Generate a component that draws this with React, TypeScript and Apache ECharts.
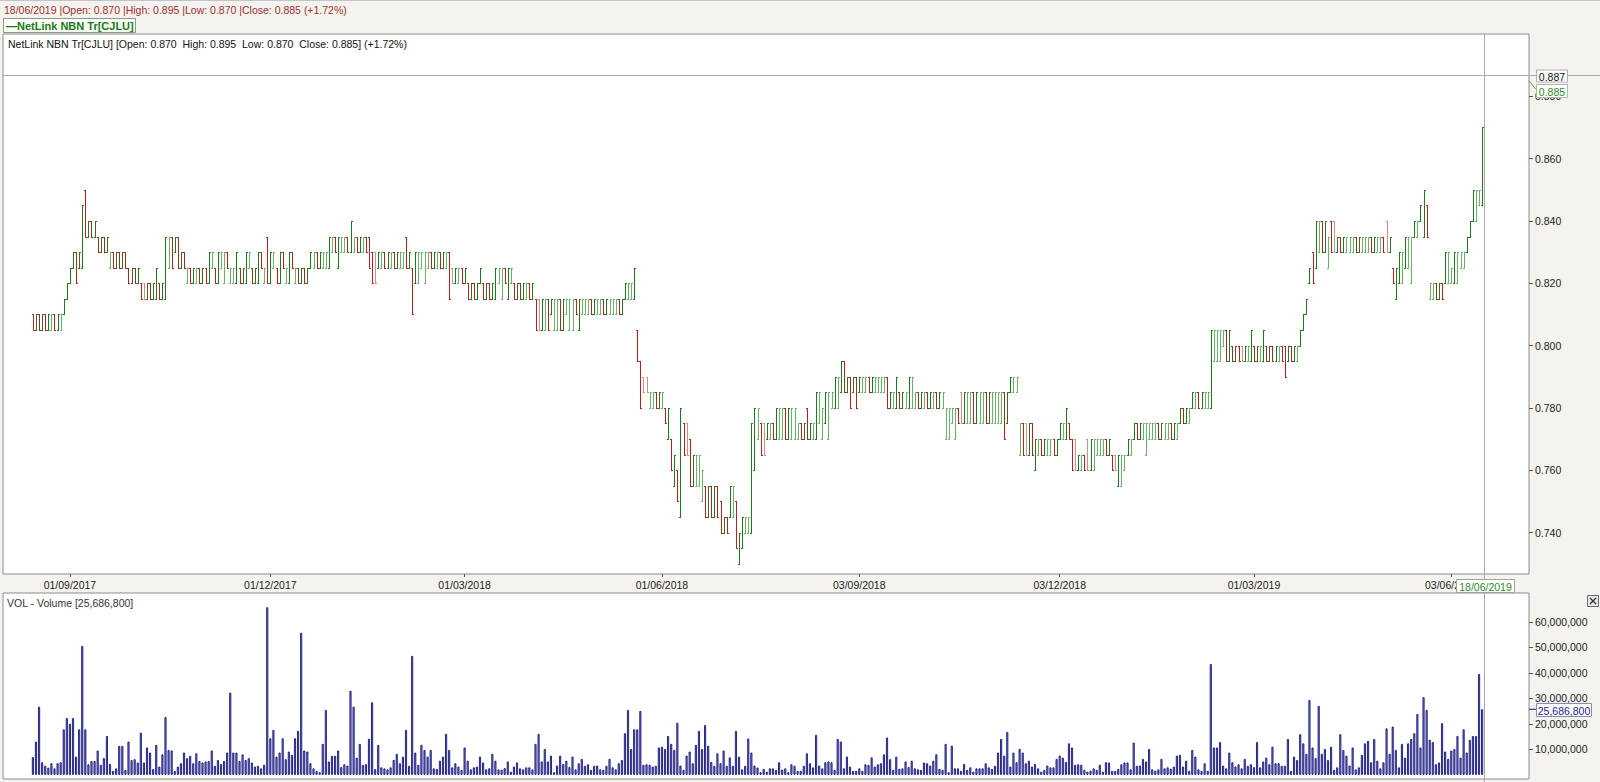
import React, { useEffect, useRef } from "react";
import * as echarts from "echarts";

// ---------- DATA ----------
const securityName = "NetLink NBN Tr[CJLU]";
const lastDate = "18/06/2019";
const lastOpen = 0.87;
const lastHigh = 0.895;
const lastLow = 0.87;
const lastClose = 0.885;
const changePct = 1.72;
const crossPrice = 0.887;
const lastVolume = 25686800;

const xTickIndex = [12, 77, 140, 204, 268, 333, 396, 460];
const xTickLabels = ["01/09/2017", "01/12/2017", "01/03/2018", "01/06/2018", "03/09/2018", "03/12/2018", "01/03/2019", "03/06/2019"];
const priceTicks = [0.74, 0.76, 0.78, 0.8, 0.82, 0.84, 0.86, 0.88];
const volumeTicks = [10000000, 20000000, 30000000, 40000000, 50000000, 60000000];

// daily bars: [open, high, low, close] in thousandths of a dollar
const ohlcThousandths: number[][] = [
  [810,810,805,805],[805,810,805,810],[810,810,805,805],[805,810,805,810],[810,810,805,805],[805,810,805,810],[805,810,805,810],[810,810,805,805],[805,810,805,810],[805,810,805,810],
  [810,815,810,815],[815,820,815,820],[820,825,820,825],[825,830,825,830],[830,830,820,820],[825,830,825,830],[825,845,825,845],[850,850,835,835],[835,840,835,840],[840,840,835,835],
  [835,840,835,840],[835,835,830,830],[830,835,830,835],[835,835,830,830],[830,835,830,835],[825,830,825,830],[830,830,825,825],[825,830,825,830],[830,830,825,825],[825,830,825,830],
  [830,830,825,825],[825,825,820,820],[820,825,820,825],[825,825,820,820],[820,825,820,825],[820,820,815,815],[820,820,815,815],[815,820,815,820],[820,820,815,815],[815,820,815,820],
  [815,825,815,825],[820,820,815,815],[815,820,815,820],[815,835,815,835],[825,835,825,835],[835,835,825,825],[830,835,830,835],[835,835,825,825],[825,830,825,830],[830,830,825,825],
  [820,825,820,825],[825,825,820,820],[820,825,820,825],[820,825,820,825],[825,825,820,820],[820,825,820,825],[825,825,820,820],[820,830,820,830],[825,830,825,830],[825,825,820,820],
  [820,830,820,830],[825,830,825,830],[820,830,820,830],[830,830,825,825],[820,825,820,825],[820,825,820,825],[820,830,820,830],[825,825,820,820],[820,825,820,825],[820,830,820,830],
  [825,830,825,830],[825,825,820,820],[820,825,820,825],[820,830,820,830],[830,830,825,825],[820,825,820,825],[835,835,820,820],[820,830,820,830],[825,830,825,830],[825,825,820,820],
  [820,830,820,830],[830,830,825,825],[820,825,820,825],[820,830,820,830],[830,830,825,825],[820,825,820,825],[825,825,820,820],[820,825,820,825],[825,825,820,820],[820,825,820,825],
  [825,830,825,830],[825,830,825,830],[830,830,825,825],[825,830,825,830],[825,830,825,830],[825,830,825,830],[825,835,825,835],[830,835,830,835],[835,835,830,830],[825,835,825,835],
  [830,835,830,835],[830,835,830,835],[835,835,830,830],[830,840,830,840],[830,835,830,835],[835,835,830,830],[830,835,830,835],[830,835,830,835],[835,835,830,830],[835,835,825,825],
  [830,830,820,820],[830,830,820,820],[825,830,825,830],[825,830,825,830],[830,830,825,825],[825,830,825,830],[825,830,825,830],[830,830,825,825],[825,830,825,830],[825,830,825,830],
  [825,830,825,830],[835,835,825,825],[825,830,825,830],[825,825,810,810],[820,830,820,830],[820,830,820,830],[825,830,825,830],[820,830,820,830],[825,830,825,830],[830,830,825,825],
  [825,830,825,830],[825,830,825,830],[830,830,825,825],[825,830,825,830],[825,830,825,830],[830,830,815,815],[825,825,820,820],[820,825,820,825],[820,825,820,825],[825,825,820,820],
  [820,825,820,825],[820,820,815,815],[815,820,815,820],[820,820,815,815],[815,820,815,820],[820,825,820,825],[820,820,815,815],[815,820,815,820],[820,820,815,815],[815,820,815,820],
  [815,825,815,825],[820,825,820,825],[815,825,815,825],[825,825,820,820],[815,825,815,825],[820,825,820,825],[820,820,815,815],[815,820,815,820],[820,820,815,815],[815,820,815,820],
  [815,820,815,820],[820,820,815,815],[815,820,815,820],[815,815,805,805],[815,815,805,805],[805,815,805,815],[805,815,805,815],[815,815,805,805],[810,815,810,815],[805,815,805,815],
  [805,815,805,815],[815,815,805,805],[805,815,805,815],[810,815,810,815],[805,815,805,815],[805,815,805,815],[815,815,810,810],[805,815,805,815],[810,815,810,815],[810,815,810,815],
  [810,815,810,815],[815,815,810,810],[810,815,810,815],[810,815,810,815],[810,815,810,815],[815,815,810,810],[810,815,810,815],[810,815,810,815],[810,815,810,815],[810,815,810,815],
  [815,815,810,810],[810,815,810,815],[815,820,815,820],[815,820,815,820],[815,820,815,820],[815,825,815,825],[805,805,795,795],[795,795,780,780],[790,790,785,785],[790,790,785,785],
  [780,785,780,785],[780,785,780,785],[785,785,780,780],[780,785,780,785],[780,785,780,785],[780,780,775,775],[770,780,770,780],[770,770,760,760],[755,765,755,765],[760,760,750,750],
  [745,780,745,780],[775,775,765,765],[775,775,765,765],[770,770,755,755],[755,765,755,765],[755,765,755,765],[755,765,755,765],[750,760,750,760],[755,755,745,745],[745,755,745,755],
  [755,755,745,745],[745,755,745,755],[755,755,745,745],[750,750,740,740],[740,745,740,745],[745,745,740,740],[745,755,745,755],[745,755,745,755],[750,750,735,735],[730,740,730,740],
  [735,745,735,745],[740,745,740,745],[740,745,740,745],[740,775,740,775],[760,780,760,780],[770,780,770,780],[775,775,765,765],[775,775,765,765],[770,775,770,775],[770,775,770,775],
  [775,775,770,770],[770,780,770,780],[770,780,770,780],[770,780,770,780],[780,780,770,770],[770,780,770,780],[770,780,770,780],[770,780,770,780],[770,775,770,775],[775,775,770,770],
  [770,775,770,775],[780,780,770,770],[770,775,770,775],[770,775,770,775],[770,785,770,785],[775,785,775,785],[770,780,770,780],[775,785,775,785],[770,785,770,785],[780,785,780,785],
  [780,790,780,790],[780,790,780,790],[785,795,785,795],[795,795,785,785],[785,790,785,790],[790,790,780,780],[785,790,785,790],[790,790,780,780],[785,790,785,790],[785,790,785,790],
  [785,790,785,790],[790,790,785,785],[785,790,785,790],[785,790,785,790],[785,790,785,790],[785,790,785,790],[785,790,785,790],[790,790,780,780],[780,785,780,785],[780,785,780,785],
  [780,790,780,790],[785,785,780,780],[780,785,780,785],[780,785,780,785],[780,790,780,790],[780,790,780,790],[780,785,780,785],[785,785,780,780],[780,785,780,785],[780,785,780,785],
  [785,785,780,780],[780,785,780,785],[780,785,780,785],[785,785,780,780],[780,785,780,785],[780,785,780,785],[770,780,770,780],[770,780,770,780],[775,780,775,780],[770,780,770,780],
  [780,780,775,775],[785,785,775,775],[775,785,775,785],[775,785,775,785],[775,785,775,785],[785,785,775,775],[775,785,775,785],[775,785,775,785],[775,785,775,785],[785,785,775,775],
  [775,785,775,785],[775,785,775,785],[775,785,775,785],[775,785,775,785],[775,785,775,785],[785,785,770,770],[775,785,775,785],[785,790,785,790],[785,790,785,790],[785,790,785,790],
  [765,775,765,775],[775,775,765,765],[775,775,765,765],[765,775,765,775],[775,775,765,765],[760,770,760,770],[765,770,765,770],[770,770,765,765],[765,770,765,770],[765,770,765,770],
  [765,770,765,770],[770,770,765,765],[765,770,765,770],[770,775,770,775],[770,775,770,775],[770,780,770,780],[775,775,770,770],[770,770,760,760],[770,770,760,760],[760,765,760,765],
  [760,765,760,765],[765,765,760,760],[770,770,760,760],[760,770,760,770],[760,770,760,770],[765,770,765,770],[765,770,765,770],[765,770,765,770],[770,770,765,765],[765,770,765,770],
  [765,765,760,760],[765,765,760,760],[755,765,755,765],[755,765,755,765],[760,765,760,765],[765,770,765,770],[765,770,765,770],[770,775,770,775],[775,775,770,770],[770,775,770,775],
  [770,775,770,775],[765,775,765,775],[770,775,770,775],[770,775,770,775],[770,775,770,775],[775,775,770,770],[770,775,770,775],[770,775,770,775],[770,775,770,775],[775,775,770,770],
  [770,775,770,775],[770,775,770,775],[775,780,775,780],[780,780,775,775],[775,780,775,780],[775,780,775,780],[780,785,780,785],[780,785,780,785],[785,785,780,780],[780,785,780,785],
  [780,785,780,785],[780,785,780,785],[780,805,780,805],[795,805,795,805],[795,805,795,805],[795,805,795,805],[800,805,800,805],[805,805,795,795],[795,805,795,805],[800,800,795,795],
  [795,800,795,800],[800,800,795,795],[800,800,795,795],[795,800,795,800],[795,800,795,800],[795,805,795,805],[800,800,795,795],[795,800,795,800],[795,800,795,800],[795,805,795,805],
  [800,800,795,795],[795,800,795,800],[800,800,795,795],[795,800,795,800],[795,800,795,800],[800,800,795,795],[800,800,790,790],[795,800,795,800],[800,800,795,795],[795,800,795,800],
  [795,800,795,800],[800,805,800,805],[805,810,805,810],[810,815,810,815],[820,825,820,825],[830,830,820,820],[825,840,825,840],[830,840,830,840],[840,840,830,830],[830,840,830,840],
  [825,835,825,835],[840,840,830,830],[840,840,830,830],[830,835,830,835],[835,835,830,830],[830,835,830,835],[830,835,830,835],[830,835,830,835],[830,835,830,835],[835,835,830,830],
  [830,835,830,835],[830,835,830,835],[830,835,830,835],[830,835,830,835],[835,835,830,830],[830,835,830,835],[830,835,830,835],[830,835,830,835],[835,835,830,830],[840,840,830,830],
  [830,835,830,835],[825,825,820,820],[815,825,815,825],[820,830,820,830],[820,830,820,830],[825,835,825,835],[825,835,825,835],[820,835,820,835],[835,840,835,840],[835,840,835,840],
  [840,845,840,845],[835,850,835,850],[845,845,835,835],[815,820,815,820],[815,820,815,820],[820,820,815,815],[815,820,815,820],[820,820,815,815],[820,830,820,830],[820,830,820,830],
  [820,825,820,825],[820,830,820,830],[820,830,820,830],[825,830,825,830],[825,830,825,830],[830,835,830,835],[835,840,835,840],[840,850,840,850],[840,850,840,850],[845,850,845,850],
  [845,870,845,870],
];

// daily volume, millions of units
const volumeMillions: number[] = [
  6.9, 13, 26.7, 4.9, 3.5, 2.8, 4.5, 2.5, 4.5, 4.9,
  17.8, 22.2, 20, 22.2, 7.1, 17.8, 50.5, 17.8, 4.1, 5.4,
  5.4, 9.5, 3.9, 6.5, 15.2, 4.3, 1.5, 2.5, 11.3, 11.3,
  1.9, 13, 5.8, 6.1, 4.8, 16.5, 4.8, 10.7, 8.7, 2.2,
  11.7, 3.2, 8.0, 22.6, 9.7, 9.5, 1.5, 3.2, 4.5, 8.7,
  6.5, 7.4, 4.5, 8.4, 5.4, 4.8, 5.2, 5.4, 9.5, 3.5,
  5.8, 4.2, 5.4, 8.7, 32.2, 8.7, 8.7, 5.4, 8.0, 5.8,
  6.5, 4.8, 3.2, 3.5, 2.5, 3.9, 65.7, 14.3, 17.6, 7.1,
  8.7, 14.3, 6.1, 9.1, 7.8, 14.3, 17.2, 55.7, 9.5, 9.1,
  4.5, 2.5, 1.5, 1.0, 12.1, 25.4, 5.2, 7.4, 7.4, 9.5,
  3.0, 4.1, 3.6, 32.9, 26.7, 6.7, 12.1, 3.9, 4.1, 14.1,
  28.4, 2.2, 11.7,
  2.9, 2.5, 2.1, 2.9, 5.8, 8.2, 4.5, 7.1, 17.6, 3.5,
  46.6, 8.7, 3.9, 11.7, 9.7, 7.1, 9.7, 2.5, 2.3, 5.5,
  7.1, 16.0, 9.7, 2.9, 4.5, 3.2, 1.9, 10.7, 5.5, 2.1,
  2.9, 3.2, 7.1, 4.8, 2.1, 2.5, 8.2, 5.5, 2.1, 1.9,
  2.6, 5.2, 1.2, 3.2, 4.8, 2.5, 2.1, 2.9, 2.9, 2.1,
  12.1, 16.0, 5.2, 10.1, 5.2, 7.5, 1.0, 3.6, 7.5, 4.2,
  5.5, 3.0, 7.1, 2.1, 4.5, 6.2, 3.5, 4.1, 1.9, 3.5,
  3.6, 2.1, 1.9, 3.5, 6.2, 2.9, 2.1, 4.5, 5.8, 16.3,
  25.4, 10.1, 17.8, 17.8, 25.0, 3.9, 4.1, 3.9, 3.2, 3.5,
  10.7, 11.0, 10.1, 15.2, 12.1, 9.7, 20.4, 3.6, 1.9, 7.5,
  9.1, 4.5, 11.7, 17.2, 10.1, 19.5, 11.4, 5.0, 3.5, 8.4,
  4.5, 9.5, 3.5, 6.8, 3.5, 17.2, 7.1, 2.1, 3.5, 14.2,
  8.7, 3.6, 2.8, 1.0, 2.3, 1.2, 2.5, 2.5, 1.9, 4.9,
  2.0, 2.5, 1.0, 4.1, 3.5, 1.5, 1.5, 3.5, 8.4, 4.5,
  2.9, 15.6, 3.6, 2.5, 4.9, 5.2, 4.9, 1.9, 14.0, 13.0,
  2.5, 7.1, 3.2, 1.5, 1.5, 2.5, 1.5, 4.1, 3.9, 6.8,
  3.2, 4.1, 4.5, 8.0, 14.6, 6.1, 1.9, 7.1, 2.3, 2.5,
  5.2, 3.0, 5.5, 2.5, 2.1, 1.9, 4.8, 4.5, 3.6, 5.5,
  8.0, 2.3, 1.9, 12.1, 1.0, 11.4, 2.5, 2.5, 1.5, 4.2,
  1.9, 2.9, 1.2, 2.5, 2.5, 2.5, 4.5, 2.9, 2.3, 3.5,
  8.7, 14.0, 7.5, 16.7, 3.2, 8.7, 4.9, 10.1, 8.7, 4.5,
  5.5, 3.2, 4.2, 2.5, 1.2, 1.9, 3.6, 2.9, 2.9, 6.2,
  7.5, 6.7, 5.0, 12.3, 10.7, 3.9, 4.1, 3.9, 1.9, 1.2,
  1.6, 2.5, 1.9, 3.9, 1.2, 4.9, 4.8, 1.5, 1.5, 2.3,
  4.1, 4.8, 4.8,
  2.1, 12.6, 3.5, 3.6, 6.2, 5.2, 10.1, 2.1, 1.6, 2.1,
  6.2, 2.5, 2.9, 2.4, 3.2, 7.5, 7.8, 3.2, 5.5, 1.5,
  9.7, 7.1, 2.1, 1.5, 4.5, 1.5, 43.4, 10.7, 10.7, 12.8,
  3.6, 2.5, 8.7, 4.9, 3.2, 4.1, 2.5, 6.2, 3.5, 4.1,
  3.0, 12.8, 2.9, 5.2, 6.7, 4.1, 11.0, 4.5, 4.5, 3.5,
  3.5, 14.0, 1.5, 7.1, 5.8, 15.9, 12.3, 8.2, 29.3, 10.7,
  6.5, 27.0, 8.2, 10.1, 5.8, 11.0, 1.9, 2.9, 15.9, 9.7,
  7.5, 3.6, 10.7, 2.1, 2.9, 7.8, 12.3, 13.3, 4.9, 14.0,
  5.5, 2.5, 4.9, 18.2, 8.2, 18.9, 9.7, 2.9, 12.1, 6.7,
  12.3, 14.0, 16.3, 23.8, 10.7, 30.4, 25.4, 13.7, 12.8, 4.1,
  4.8, 20.2, 9.1, 6.2, 9.5, 10.1, 15.2, 6.7, 17.8, 8.7,
  13.7, 15.2, 15.2, 39.5, 25.6868,
];

// ---------- STYLE ----------
const FONT = "'Liberation Sans', Arial, sans-serif";
const TONES = ["#1f7a1f", "#6ab46a", "#b52222", "#dc8a8a"];
const PAGE_BG = "#f4f3ef";
const BORDER = "#8c8c8c";
const CROSS = "#a9a9a9";

const fmt3 = (v: number) => v.toFixed(3);
const fmtInt = (v: number) => Math.round(v).toLocaleString("en-US");

function buildOhlcData() {
  return ohlcThousandths.map((b, i) => {
    const [o, h, l, c] = b.map((v) => v / 1000);
    const prev = i > 0 ? ohlcThousandths[i - 1][3] / 1000 : o;
    let tone: number;
    if (c >= o) tone = c > prev ? 0 : 1;
    else tone = c < prev ? 2 : 3;
    return [i, o, h, l, c, tone];
  });
}

const renderOhlc = (_params: any, api: any) => {
  const i = api.value(0);
  const pO = api.coord([i, api.value(1)]);
  const pH = api.coord([i, api.value(2)]);
  const pL = api.coord([i, api.value(3)]);
  const pC = api.coord([i, api.value(4)]);
  const color = TONES[api.value(5)];
  const col = Math.round(pH[0]);
  const x = col + 0.5;
  const snap = (y: number) => Math.round(y) + 0.5;
  const style = { stroke: color, lineWidth: 1, fill: null };
  return {
    type: "group",
    children: [
      { type: "line", shape: { x1: x, y1: snap(pH[1]) - 0.5, x2: x, y2: snap(pL[1]) + 0.5 }, style },
      { type: "line", shape: { x1: col - 1, y1: snap(pO[1]), x2: col + 1, y2: snap(pO[1]) }, style },
      { type: "line", shape: { x1: col, y1: snap(pC[1]), x2: col + 2, y2: snap(pC[1]) }, style },
    ],
  };
};

export default function App() {
  const ref = useRef<HTMLDivElement>(null);

  useEffect(() => {
    if (!ref.current) return;
    const chart = echarts.init(ref.current, null, { renderer: "svg" });

    const X_MIN = -9.7;
    const X_MAX = 485.2;
    const labelStyle = { color: "#222", fontSize: 10.5, fontFamily: FONT };

    const option: any = {
      animation: false,
      backgroundColor: PAGE_BG,
      grid: [
        { left: 3, top: 34, width: 1526, height: 540, show: true, backgroundColor: "#fff", borderColor: BORDER, borderWidth: 1 },
        { left: 3, top: 593, width: 1526, height: 186, show: true, backgroundColor: "#fff", borderColor: BORDER, borderWidth: 1 },
      ],
      xAxis: [
        {
          type: "value", gridIndex: 0, min: X_MIN, max: X_MAX,
          axisLine: { show: false, onZero: false }, splitLine: { show: false },
          axisTick: { show: true, customValues: xTickIndex, length: 3, lineStyle: { color: "#555" } },
          axisLabel: {
            ...labelStyle, margin: 5, customValues: xTickIndex,
            formatter: (v: number) => xTickLabels[xTickIndex.indexOf(Math.round(v))] ?? "",
          },
        },
        { type: "value", gridIndex: 1, min: X_MIN, max: X_MAX, show: false, axisLine: { onZero: false } },
      ],
      yAxis: [
        {
          type: "value", gridIndex: 0, position: "right", min: 0.7267, max: 0.9,
          axisLine: { show: false, onZero: false }, splitLine: { show: false },
          axisTick: { show: true, customValues: priceTicks, length: 4, lineStyle: { color: "#555" } },
          axisLabel: { ...labelStyle, margin: 6, customValues: priceTicks, formatter: fmt3 },
        },
        {
          type: "value", gridIndex: 1, position: "right", min: -1650000, max: 71300000,
          axisLine: { show: false, onZero: false }, splitLine: { show: false },
          axisTick: { show: true, customValues: volumeTicks, length: 4, lineStyle: { color: "#555" } },
          axisLabel: { ...labelStyle, margin: 6, customValues: volumeTicks, formatter: fmtInt },
        },
      ],
      series: [
        {
          type: "custom", name: securityName, xAxisIndex: 0, yAxisIndex: 0,
          renderItem: renderOhlc, clip: true, silent: true,
          dimensions: ["i", "open", "high", "low", "close", "tone"],
          encode: { x: 0, y: [1, 2, 3, 4] },
          data: buildOhlcData(),
        },
        {
          type: "bar", name: "Volume", xAxisIndex: 1, yAxisIndex: 1, silent: true,
          barWidth: 2,
          itemStyle: { color: "#8e8ee2", borderColor: "#00006a", borderWidth: 0.8 },
          data: volumeMillions.map((v, i) => [i, v * 1000000]),
        },
      ],
    };
    chart.setOption(option);

    const lastI = ohlcThousandths.length - 1;
    const [xLast, yCross] = chart.convertToPixel({ gridIndex: 0 }, [lastI, crossPrice]) as number[];
    const [, yClose] = chart.convertToPixel({ gridIndex: 0 }, [lastI, lastClose]) as number[];
    const [, yVol] = chart.convertToPixel({ gridIndex: 1 }, [lastI, lastVolume]) as number[];
    const xc = Math.round(xLast) + 2.5;
    const yc = Math.round(yCross) + 0.5;

    const topLine = `${lastDate} |Open: ${fmt3(lastOpen)} |High: ${fmt3(lastHigh)} |Low: ${fmt3(lastLow)} |Close: ${fmt3(lastClose)} (+${changePct.toFixed(2)}%)`;
    const innerLine = `${securityName} [Open: ${fmt3(lastOpen)}  High: ${fmt3(lastHigh)}  Low: ${fmt3(lastLow)}  Close: ${fmt3(lastClose)}] (+${changePct.toFixed(2)}%)`;
    const volLine = `VOL - Volume [${fmtInt(lastVolume)}]`;
    const font = `10.5px ${FONT}`;

    const box = (x: number, y: number, w: number, h: number, text: string, color: string, stroke: string, z = 120) => ([
      { type: "rect", z, shape: { x: x + 0.5, y: y + 0.5, width: w, height: h }, style: { fill: "#fff", stroke, lineWidth: 1 } },
      { type: "text", z: z + 1, x: x + w / 2 + 0.5, y: y + h / 2 + 1, style: { text, fill: color, font, align: "center", verticalAlign: "middle" } },
    ]);

    chart.setOption({
      graphic: [
        { type: "line", z: 100, shape: { x1: 0, y1: 0.5, x2: 1600, y2: 0.5 }, style: { stroke: "#c4c4c4", lineWidth: 1 } },
        { type: "text", z: 100, x: 4, y: 10, style: { text: topLine, fill: "#a03030", font, verticalAlign: "middle" } },
        { type: "rect", z: 100, shape: { x: 3.5, y: 18.5, width: 132, height: 14 }, style: { fill: "#fbfbf7", stroke: "#8a9a8a", lineWidth: 1 } },
        { type: "text", z: 101, x: 6, y: 26, style: { text: "—" + securityName, fill: "#1a7a1a", font: `bold 11px ${FONT}`, verticalAlign: "middle" } },
        { type: "text", z: 100, x: 8, y: 43.5, style: { text: innerLine, fill: "#111", font, verticalAlign: "middle" } },
        { type: "text", z: 100, x: 7, y: 602.5, style: { text: volLine, fill: "#333", font, verticalAlign: "middle" } },
        { type: "line", z: 105, shape: { x1: 3, y1: yc, x2: 1600, y2: yc }, style: { stroke: CROSS, lineWidth: 1 } },
        { type: "line", z: 105, shape: { x1: xc, y1: 34, x2: xc, y2: 782 }, style: { stroke: CROSS, lineWidth: 1 } },
        ...box(1536, Math.round(yc) - 6.5, 31, 12, fmt3(crossPrice), "#111", "#b0b0b0"),
        { type: "line", z: 119, shape: { x1: 1529, y1: yClose, x2: 1536, y2: yc + 14 }, style: { stroke: "#6a9a6a", lineWidth: 1 } },
        ...box(1536, Math.round(yc) + 8, 31, 13, fmt3(lastClose), "#2a8a2a", "#a8bca8"),
        ...box(Math.round(xc) - 29, 579, 58, 13, lastDate, "#2a8a2a", "#a0a0a0"),
        { type: "line", z: 119, shape: { x1: 1529, y1: yVol, x2: 1536, y2: yVol }, style: { stroke: "#1c1c8c", lineWidth: 1 } },
        ...box(1536, Math.round(yVol) - 6, 55, 13, fmtInt(lastVolume), "#1c1c8c", "#8a8ab0"),
        { type: "rect", z: 120, shape: { x: 1587.5, y: 595.5, width: 11, height: 11 }, style: { fill: "#e6e6e6", stroke: "#6a6a6a", lineWidth: 1 } },
        { type: "line", z: 121, shape: { x1: 1590, y1: 598, x2: 1596, y2: 604 }, style: { stroke: "#333", lineWidth: 1.2 } },
        { type: "line", z: 121, shape: { x1: 1596, y1: 598, x2: 1590, y2: 604 }, style: { stroke: "#333", lineWidth: 1.2 } },
      ],
    });

    return () => chart.dispose();
  }, []);

  return (
    <div
      ref={ref}
      style={{ position: "fixed", left: 0, top: 0, width: 1600, height: 782 }}
    />
  );
}
